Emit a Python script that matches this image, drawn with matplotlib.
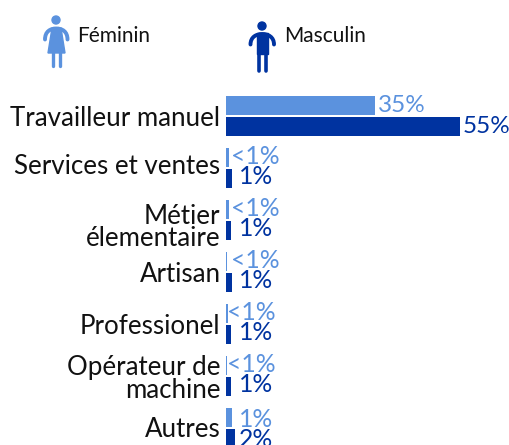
import matplotlib
matplotlib.use("Agg")
import matplotlib.pyplot as plt
import numpy as np
from matplotlib.patches import Circle, PathPatch, Polygon
from matplotlib.path import Path

categories = ["Travailleur manuel", "Services et ventes", "Métier\nélementaire", "Artisan",
              "Professionel", "Opérateur de\nmachine", "Autres"]
feminin = [35, 0.7, 0.7, 0.3, 0.4, 0.3, 1.3]
masculin = [55, 1.3, 1.1, 1.3, 1.2, 1.2, 2]
feminin_labels = ["35%", "<1%", "<1%", "<1%", "<1%", "<1%", "1%"]
masculin_labels = ["55%", "1%", "1%", "1%", "1%", "1%", "2%"]

BLEU_CLAIR = "#5b92de"
BLEU_FONCE = "#0033a0"
TEXTE = "#111111"
plt.rcParams["font.family"] = ["Lato", "DejaVu Sans"]

W, H = 510, 445
PX = 4.26   # pixels par %
ROW = 52.0  # pixels par categorie

fig = plt.figure(figsize=(W / 100, H / 100), dpi=100)
ax = fig.add_axes([0, 0, 1, 1])
ax.set_xlim(-226 / PX, (W - 226) / PX)
ax.set_ylim((H - 116) / ROW, -116 / ROW)
ax.axis("off")

y = np.arange(len(categories))
ax.barh(y - 0.2, feminin, height=0.365, color=BLEU_CLAIR)
ax.barh(y + 0.2, masculin, height=0.365, color=BLEU_FONCE)

# libelles (decalage vertical en pixels, le texte n'est pas centre sur la ligne)
decalage = [2, -2, 8, 3, 2, 3, 1]
for i, cat in enumerate(categories):
    ax.text(-5.5 / PX, i + decalage[i] / ROW, cat, ha="right", va="center",
            fontsize=18.6, color=TEXTE, linespacing=0.85)

for i in y:
    if i == 0:
        ax.annotate(feminin_labels[i], (feminin[i], i - 0.2), xytext=(2, 0), textcoords="offset points",
                    ha="left", va="center", fontsize=17.5, color=BLEU_CLAIR)
        ax.annotate(masculin_labels[i], (masculin[i], i + 0.2), xytext=(2, 0), textcoords="offset points",
                    ha="left", va="center", fontsize=17.5, color=BLEU_FONCE)
    else:
        fx = 280 if i < 4 else (276 if i < 6 else 273.5)
        d = 0.06 if i == 6 else 0
        ax.text((fx - 226) / PX, i - 0.23 + d, feminin_labels[i], ha="right", va="center",
                fontsize=17.8, color=BLEU_CLAIR)
        ax.text((273.5 - 226) / PX, i + 0.17 + d, masculin_labels[i], ha="right", va="center",
                fontsize=17.8, color=BLEU_FONCE)

# legende avec les pictogrammes
ic = fig.add_axes([0, 0, 1, 1])
ic.set_xlim(0, W)
ic.set_ylim(H, 0)
ic.axis("off")


def bras(x0, x1, y_haut, y_bas, couleur):
    xm = (x0 + x1) / 2
    verts = [(x0, y_bas), (x0, y_haut + 3), (xm - 6, y_haut), (xm, y_haut),
             (xm + 6, y_haut), (x1, y_haut + 3), (x1, y_bas)]
    codes = [Path.MOVETO] + [Path.CURVE4] * 6
    ic.add_patch(PathPatch(Path(verts, codes), fill=False, edgecolor=couleur, lw=2.8, capstyle="round"))


ic.add_patch(Circle((56, 20), 4, color=BLEU_CLAIR))
bras(45, 67.5, 28.5, 39.5, BLEU_CLAIR)
ic.add_patch(Polygon([(52, 28), (61, 28), (65, 53), (48, 53)], color=BLEU_CLAIR))
ic.plot([53, 53], [52, 65.5], color=BLEU_CLAIR, lw=2.4, solid_capstyle="round")
ic.plot([60, 60], [52, 65.5], color=BLEU_CLAIR, lw=2.4, solid_capstyle="round")

ic.add_patch(Circle((262, 26), 4, color=BLEU_FONCE))
bras(250.5, 274, 34, 44.5, BLEU_FONCE)
ic.add_patch(Polygon([(257, 33), (268, 33), (268, 54), (257, 54)], color=BLEU_FONCE))
ic.plot([258.8, 258.8], [52, 70.5], color=BLEU_FONCE, lw=2.6, solid_capstyle="round")
ic.plot([266, 266], [52, 70.5], color=BLEU_FONCE, lw=2.6, solid_capstyle="round")

ic.text(77, 42, "Féminin", fontsize=15, color=TEXTE, va="baseline")
ic.text(284, 42, "Masculin", fontsize=15, color=TEXTE, va="baseline")

fig.savefig("out.png", dpi=100)
